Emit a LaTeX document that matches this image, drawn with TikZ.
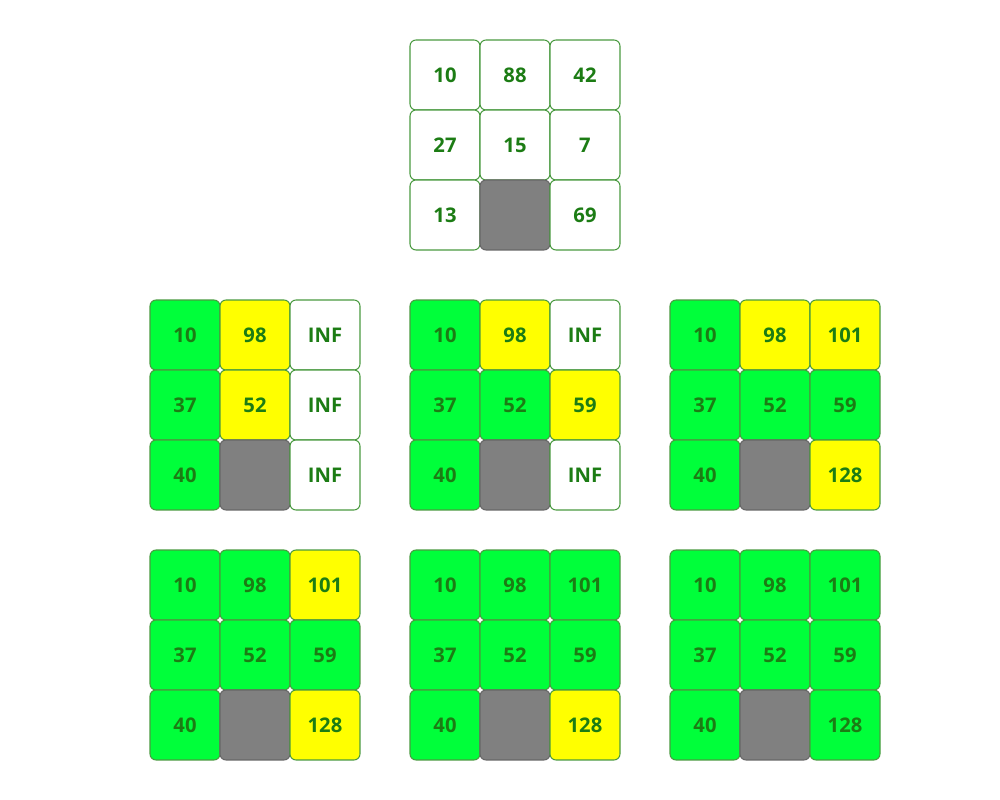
\documentclass[tikz,border=0pt]{standalone}
\usepackage{fontspec}
\setmainfont{Open Sans}
\definecolor{cellgreen}{HTML}{00FF3A}
\definecolor{cellyellow}{HTML}{FFFF00}
\definecolor{cellgray}{HTML}{808080}
\definecolor{txtgreen}{HTML}{1C7C14}
\definecolor{edgegreen}{HTML}{4A9A40}
\tikzset{
  cellbox/.style={draw=edgegreen, line width=0.6pt, rounded corners=0.12cm,
    minimum width=1.4cm, minimum height=1.4cm, inner sep=0pt, outer sep=0pt,
    text=txtgreen, font=\fontsize{11.5}{13}\selectfont\bfseries},
  W/.style={cellbox, fill=white},
  G/.style={cellbox, fill=cellgreen},
  Y/.style={cellbox, fill=cellyellow},
  K/.style={cellbox, fill=cellgray, draw=black!60},
}
\begin{document}
\begin{tikzpicture}[x=0.02cm, y=-0.02cm]
\useasboundingbox (0,0) rectangle (1000,800);
% grid: name, origin x, origin y, list of style/text for 9 cells
\foreach \g/\ox/\oy/\cells in {
  t/410/40/{W/10,W/88,W/42,W/27,W/15,W/7,W/13,K/,W/69},
  a/150/300/{G/10,Y/98,W/INF,G/37,Y/52,W/INF,G/40,K/,W/INF},
  b/410/300/{G/10,Y/98,W/INF,G/37,G/52,Y/59,G/40,K/,W/INF},
  c/670/300/{G/10,Y/98,Y/101,G/37,G/52,G/59,G/40,K/,Y/128},
  d/150/550/{G/10,G/98,Y/101,G/37,G/52,G/59,G/40,K/,Y/128},
  e/410/550/{G/10,G/98,G/101,G/37,G/52,G/59,G/40,K/,Y/128},
  f/670/550/{G/10,G/98,G/101,G/37,G/52,G/59,G/40,K/,G/128}} {
  \foreach \s/\t [count=\i from 0] in \cells {
    \pgfmathtruncatemacro{\r}{int(\i/3)}
    \pgfmathtruncatemacro{\c}{mod(\i,3)}
    \node[\s] (\g\r\c) at (\ox+35+70*\c, \oy+35+70*\r) {\t};
  }
}
\end{tikzpicture}
\end{document}
